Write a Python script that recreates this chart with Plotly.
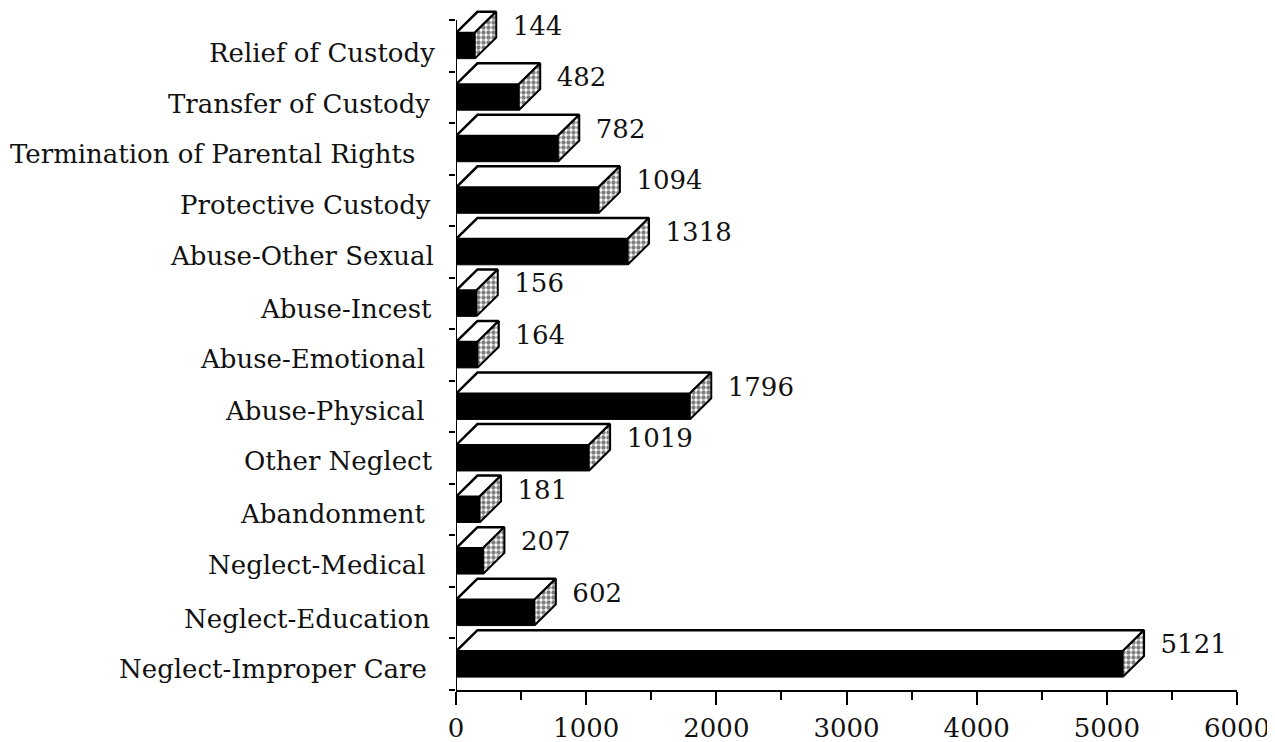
import plotly.graph_objects as go

categories = ["Relief of Custody", "Transfer of Custody", "Termination of Parental Rights",
              "Protective Custody", "Abuse-Other Sexual", "Abuse-Incest", "Abuse-Emotional",
              "Abuse-Physical", "Other Neglect", "Abandonment", "Neglect-Medical",
              "Neglect-Education", "Neglect-Improper Care"]
values = [144, 482, 782, 1094, 1318, 156, 164, 1796, 1019, 181, 207, 602, 5121]
x_ticks = [0, 1000, 2000, 3000, 4000, 5000, 6000]

# drawing style
label_right_px = [437, 432, 417, 433, 436, 434, 427, 427, 435, 427, 428, 432, 429]
label_dy_px = [7, 7, 5, 5, 4, 6, 4, 4, 3, 4, 4, 6, 5]
DX = 165      # depth of the pseudo-3D bars, x units
DY = 0.41     # depth of the pseudo-3D bars, band units
HALF = 0.25
FONT = "DejaVu Serif"
n = len(values)
pos = [n - 1 - i for i in range(n)]

fig = go.Figure()
fig.add_trace(go.Bar(x=values, y=pos, orientation="h", width=2 * HALF,
                     marker=dict(color="black", line=dict(color="black", width=1)),
                     hoverinfo="skip"))
fig.add_trace(go.Scatter(x=[0, 0], y=[-0.5, n - 0.5], mode="lines",
                         line=dict(color="black", width=2), hoverinfo="skip"))
for v, p in zip(values, pos):
    top, low = p + HALF, p - HALF
    fig.add_trace(go.Scatter(x=[0, v, v + DX, DX, 0], y=[top, top, top + DY, top + DY, top],
                             mode="lines", fill="toself", fillcolor="white",
                             line=dict(color="black", width=2.5), hoverinfo="skip"))
    fig.add_trace(go.Scatter(x=[v, v + DX, v + DX, v, v], y=[low, low + DY, top + DY, top, low],
                             mode="lines", fill="toself",
                             fillpattern=dict(shape=".", size=5, solidity=0.6, fgcolor="black", bgcolor="white"),
                             line=dict(color="black", width=2), hoverinfo="skip"))
fig.add_trace(go.Scatter(x=[v + DX for v in values], y=[p + 0.34 for p in pos],
                         mode="text", text=[f"  {v}" for v in values], textposition="middle right",
                         textfont=dict(family=FONT, size=26, color="#111"), cliponaxis=False, hoverinfo="skip"))

annotations = []
for c, p, r, d in zip(categories, pos, label_right_px, label_dy_px):
    annotations.append(dict(text=c, x=0, xref="x", y=p, yref="y", xanchor="right", yanchor="middle",
                            xshift=r - 456, yshift=-d, showarrow=False,
                            font=dict(family=FONT, size=26, color="#111")))

fig.update_layout(
    width=1267, height=734, autosize=False, showlegend=False,
    paper_bgcolor="white", plot_bgcolor="white",
    margin=dict(l=448, r=38, t=2, b=52, pad=0),
    annotations=annotations,
    xaxis=dict(range=[0, 6000], tickvals=x_ticks, ticks="outside", ticklen=13, tickwidth=2,
               tickcolor="black", showline=True, linecolor="black", linewidth=2, showgrid=False,
               zeroline=False, automargin=False, ticklabelstandoff=1,
               tickfont=dict(family=FONT, size=26, color="#111"),
               minor=dict(dtick=500, ticks="outside", ticklen=8, tickwidth=2, tickcolor="black", showgrid=False)),
    yaxis=dict(range=[-0.5, n - 0.5 + 0.194], tickvals=[i - 0.5 for i in range(n + 1)], ticktext=[""] * (n + 1),
               ticks="outside", ticklen=6, tickwidth=2, tickcolor="black", showline=False,
               showgrid=False, zeroline=False, automargin=False),
)
fig.write_html("out.html")
